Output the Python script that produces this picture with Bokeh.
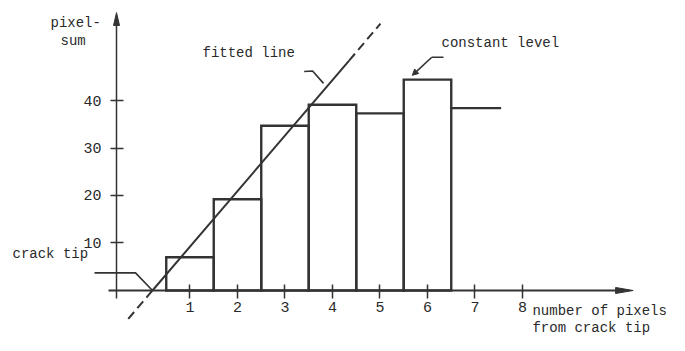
from bokeh.plotting import figure
from bokeh.models import (Range1d, LinearAxis, FixedTicker, Label, Arrow, NormalHead)
from bokeh.embed import file_html
from bokeh.resources import INLINE

# ---------------- data ----------------
bar_left = [0.5, 1.5, 2.5, 3.5, 4.5, 5.5]
bar_right = [1.5, 2.5, 3.5, 4.5, 5.5, 6.5]
bar_sums = [7.0, 19.2, 34.7, 39.1, 37.3, 44.4]
last_left = [6.5]
last_right = [7.55]
last_sum = [38.4]

fit_x = [0.21, 4.35]
fit_y = [0.0, 48.4]
fit_ext_hi_x = [4.35, 5.01]
fit_ext_hi_y = [48.4, 56.2]
fit_ext_lo_x = [-0.30, 0.21]
fit_ext_lo_y = [-5.97, 0.0]

x_ticks = [1, 2, 3, 4, 5, 6, 7, 8]
x_tick_labels = ["1", "2", "3", "4", "5", "6", "7", "8"]
y_ticks = [10, 20, 30, 40]
y_tick_labels = ["10", "20", "30", "40"]

# ---------------- style / layout ----------------
INK = "#333333"
TXT = "#2a2a2a"
FONT = "Liberation Mono"
PX_X = 47.5   # pixels per x unit
PX_Y = 4.75   # pixels per y unit

X_AXIS_START, X_AXIS_END, X_ARROW_TIP = -0.716, 9.96, 10.33
Y_AXIS_POS = -0.547
Y_AXIS_START, Y_AXIS_END, Y_ARROW_TIP = -1.68, 55.8, 58.5

p = figure(width=669, height=335,
           x_range=Range1d(-2.9895, 11.095), y_range=Range1d(-9.474, 61.053),
           output_backend="svg", toolbar_location=None, min_border=0,
           x_axis_location=None, y_axis_location=None,
           outline_line_color=None, background_fill_color="white",
           border_fill_color="white")
p.grid.visible = False

xaxis = LinearAxis(fixed_location=0, bounds=(X_AXIS_START, X_AXIS_END),
                   ticker=FixedTicker(ticks=x_ticks),
                   major_label_overrides={t: l for t, l in zip(x_ticks, x_tick_labels)},
                   axis_line_color=INK, axis_line_width=2,
                   major_tick_line_color=INK, major_tick_line_width=1.5,
                   major_tick_in=6, major_tick_out=8, minor_tick_line_color=None,
                   major_label_standoff=4, major_label_text_font=FONT,
                   major_label_text_font_size="15px", major_label_text_color=TXT)
p.add_layout(xaxis, "below")

yaxis = LinearAxis(fixed_location=Y_AXIS_POS, bounds=(Y_AXIS_START, Y_AXIS_END),
                   ticker=FixedTicker(ticks=y_ticks),
                   major_label_overrides={t: l for t, l in zip(y_ticks, y_tick_labels)},
                   axis_line_color=INK, axis_line_width=1.5,
                   major_tick_line_color=INK, major_tick_line_width=1.5,
                   major_tick_in=7, major_tick_out=6, minor_tick_line_color=None,
                   major_label_standoff=9, major_label_text_font=FONT,
                   major_label_text_font_size="15px", major_label_text_color=TXT)
p.add_layout(yaxis, "left")

# axis arrowheads (narrow filled triangles)
hx = 3.0 / PX_Y
p.patch([X_AXIS_END, X_ARROW_TIP, X_AXIS_END], [hx, 0, -hx],
        fill_color=INK, line_color=INK, line_width=1)
hy = 3.0 / PX_X
p.patch([Y_AXIS_POS - hy, Y_AXIS_POS, Y_AXIS_POS + hy], [Y_AXIS_END, Y_ARROW_TIP, Y_AXIS_END],
        fill_color=INK, line_color=INK, line_width=1)

# bars
p.quad(left=bar_left, right=bar_right, bottom=0, top=bar_sums,
       fill_color=None, line_color=INK, line_width=2.4, line_join="miter")
p.segment(x0=last_left, y0=last_sum, x1=last_right, y1=last_sum,
          line_color=INK, line_width=2.4)

# fitted line
p.line(fit_x, fit_y, line_color=INK, line_width=2)
p.line(fit_ext_hi_x, fit_ext_hi_y, line_color=INK, line_width=2, line_dash="9 5")
p.line(fit_ext_lo_x, fit_ext_lo_y, line_color=INK, line_width=2, line_dash="9 5")

# leaders
p.line([3.404, 3.581, 3.811], [46.1, 46.2, 43.6], line_color=INK, line_width=1.6)
p.line([6.337, 6.09], [49.1, 49.1], line_color=INK, line_width=1.6)
p.add_layout(Arrow(x_start=6.09, y_start=49.1, x_end=5.68, y_end=45.3,
                   line_color=INK, line_width=1.6,
                   end=NormalHead(size=6, fill_color=INK, line_color=INK)))
p.line([-1.01, -0.147, 0.20], [3.71, 3.71, 0.1], line_color=INK, line_width=1.6)

# texts
texts = ["pixel-", "sum", "fitted line", "constant level", "crack tip",
         "number of pixels", "from crack tip"]
text_x = [-1.937, -1.726, 1.263, 6.295, -2.737, 8.21, 8.21]
text_y = [56.4, 52.6, 50.1, 52.2, 7.58, -4.4, -8.0]
for t, tx, ty in zip(texts, text_x, text_y):
    p.add_layout(Label(x=tx, y=ty, text=t, text_font=FONT, text_font_size="14px",
                       text_color=TXT, text_align="left", text_baseline="middle"))

open("out.html", "w").write(file_html(p, INLINE))
